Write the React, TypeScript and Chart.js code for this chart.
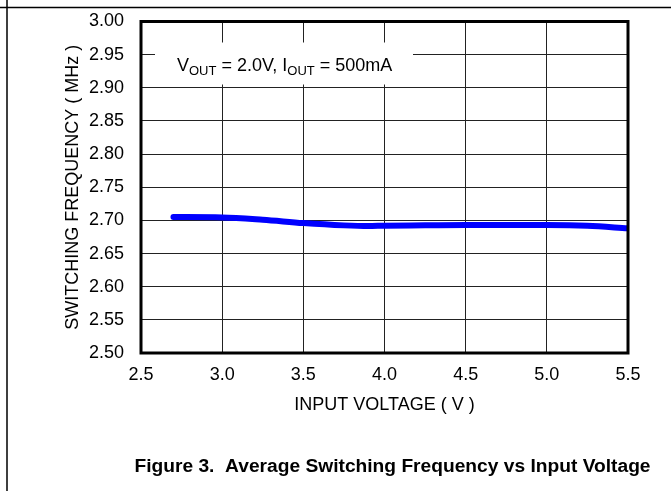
import React, { useEffect, useRef } from "react";
import { Chart, registerables } from "chart.js";

Chart.register(...registerables);

const inputVoltage = [2.7, 3.0, 3.25, 3.5, 3.75, 3.9, 4.0, 4.25, 4.5, 4.75, 5.0, 5.25, 5.5];
const switchingFreq = [2.705, 2.7045, 2.701, 2.696, 2.6925, 2.6915, 2.692, 2.6925, 2.693, 2.693, 2.693, 2.692, 2.688];
const xTickValues = [2.5, 3.0, 3.5, 4.0, 4.5, 5.0, 5.5];
const yTickValues = [2.5, 2.55, 2.6, 2.65, 2.7, 2.75, 2.8, 2.85, 2.9, 2.95, 3.0];
const xTickLabels = ["2.5", "3.0", "3.5", "4.0", "4.5", "5.0", "5.5"];
const yTickLabels = ["2.50", "2.55", "2.60", "2.65", "2.70", "2.75", "2.80", "2.85", "2.90", "2.95", "3.00"];
const xTitle = "INPUT VOLTAGE ( V )";
const yTitle = "SWITCHING FREQUENCY ( MHz )";
const caption = "Figure 3.  Average Switching Frequency vs Input Voltage";
const FONT = "'Liberation Sans', Arial, sans-serif";

const decorPlugin = {
  id: "decor",
  afterDraw(chart: any) {
    const ctx = chart.ctx;
    const a = chart.chartArea;
    ctx.save();
    // figure frame
    ctx.strokeStyle = "#000";
    ctx.lineWidth = 1.5;
    ctx.beginPath();
    ctx.moveTo(0, 7.5);
    ctx.lineTo(chart.width, 7.5);
    ctx.moveTo(7, 0);
    ctx.lineTo(7, chart.height);
    ctx.stroke();

    // annotation box
    ctx.fillStyle = "#fff";
    ctx.fillRect(a.left + 14, a.top + 21, 258, 42);
    ctx.fillStyle = "#000";
    ctx.textBaseline = "alphabetic";
    ctx.textAlign = "left";
    let x = a.left + 36;
    const base = a.top + 49;
    const parts: [string, boolean][] = [
      ["V", false], ["OUT", true], [" = 2.0V, I", false], ["OUT", true], [" = 500mA", false],
    ];
    for (const [t, sub] of parts) {
      ctx.font = sub ? `13px ${FONT}` : `18px ${FONT}`;
      ctx.fillText(t, x, sub ? base + 4 : base);
      x += ctx.measureText(t).width;
    }

    // plot border
    ctx.strokeStyle = "#000";
    ctx.lineWidth = 3;
    ctx.strokeRect(a.left, a.top, a.right - a.left, a.bottom - a.top);

    // axis titles
    ctx.font = `18px ${FONT}`;
    ctx.textAlign = "center";
    ctx.textBaseline = "middle";
    ctx.fillText(xTitle, (a.left + a.right) / 2, 405);
    ctx.save();
    ctx.translate(73, (a.top + a.bottom) / 2);
    ctx.rotate(-Math.PI / 2);
    ctx.fillText(yTitle, 0, 0);
    ctx.restore();

    // caption
    ctx.font = `bold 19.2px ${FONT}`;
    ctx.fillText(caption, 392.5, 467);
    ctx.restore();
  },
};

export default function App() {
  const ref = useRef<HTMLCanvasElement>(null);
  useEffect(() => {
    if (!ref.current) return;
    const chart = new Chart(ref.current, {
      type: "line",
      data: {
        datasets: [
          {
            data: inputVoltage.map((v, i) => ({ x: v, y: switchingFreq[i] })),
            borderColor: "#0000ff",
            borderWidth: 6,
            borderCapStyle: "round",
            pointRadius: 0,
            cubicInterpolationMode: "monotone",
          },
        ],
      },
      options: {
        animation: false,
        responsive: false,
        layout: { padding: { left: 0, right: 43, top: 21.5, bottom: 0 } },
        plugins: { legend: { display: false }, tooltip: { enabled: false } },
        scales: {
          x: {
            type: "linear",
            min: 2.5,
            max: 5.5,
            afterBuildTicks: (s: any) => { s.ticks = xTickValues.map((v) => ({ value: v })); },
            afterFit: (s: any) => { s.height = 138; },
            ticks: {
              color: "#000",
              font: { family: FONT, size: 18 },
              padding: 11,
              maxRotation: 0,
              callback: (_v: any, i: number) => xTickLabels[i],
            },
            grid: { color: "#222", lineWidth: 1, drawTicks: false },
            border: { display: false },
          },
          y: {
            type: "linear",
            min: 2.5,
            max: 3.0,
            afterBuildTicks: (s: any) => { s.ticks = yTickValues.map((v) => ({ value: v })); },
            afterFit: (s: any) => { s.width = 141; },
            ticks: {
              color: "#000",
              font: { family: FONT, size: 18 },
              padding: 0,
              callback: (_v: any, i: number) => yTickLabels[i],
            },
            grid: { color: "#222", lineWidth: 1, drawTicks: true, tickLength: 17, tickColor: "rgba(0,0,0,0)" },
            border: { display: false },
          },
        },
      },
      plugins: [decorPlugin],
    } as any);
    return () => chart.destroy();
  }, []);
  return (
    <div style={{ position: "absolute", left: 0, top: 0, width: 671, height: 491, background: "#fff" }}>
      <canvas ref={ref} width={671} height={491} style={{ display: "block" }} />
    </div>
  );
}
